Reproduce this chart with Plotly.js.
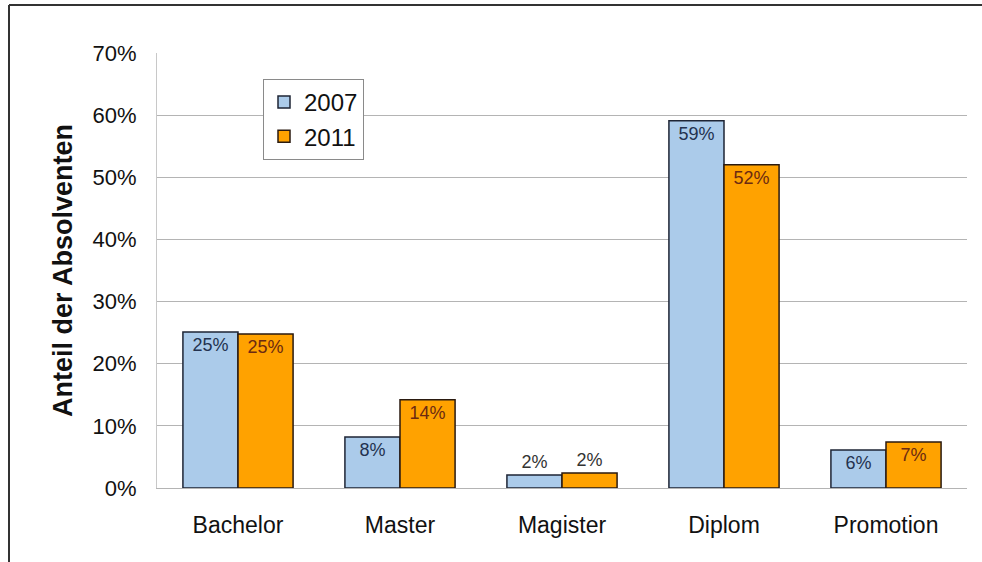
<!DOCTYPE html>
<html>
<head>
<meta charset="utf-8">
<script src="https://cdn.plot.ly/plotly-3.0.1.min.js"></script>
<style>
html,body{margin:0;padding:0;background:#fff;}
#chart{width:982px;height:562px;}
</style>
</head>
<body>
<div id="chart"></div>
<script>
const categories = ["Bachelor", "Master", "Magister", "Diplom", "Promotion"];
const values2007 = [25.1, 8.2, 2.1, 59.1, 6.1];
const values2011 = [24.8, 14.2, 2.4, 52.0, 7.4];
const labels2007 = ["25%", "8%", "2%", "59%", "6%"];
const labels2011 = ["25%", "14%", "2%", "52%", "7%"];
const seriesNames = ["2007", "2011"];
const yTicks = [0, 10, 20, 30, 40, 50, 60, 70];
const yTickText = ["0%", "10%", "20%", "30%", "40%", "50%", "60%", "70%"];

const positions = ["inside", "inside", "outside", "inside", "inside"];

const trace2007 = {
  type: "bar", name: seriesNames[0], x: categories, y: values2007,
  text: labels2007, textposition: positions, insidetextanchor: "end",
  constraintext: "none", cliponaxis: false,
  textfont: {family: "Liberation Sans, Arial, sans-serif", size: 18,
             color: ["#23324f", "#23324f", "#333333", "#23324f", "#23324f"]},
  marker: {color: "#abcbea", line: {color: "#1e2535", width: 1.5}},
  hoverinfo: "none"
};
const trace2011 = {
  type: "bar", name: seriesNames[1], x: categories, y: values2011,
  text: labels2011, textposition: positions, insidetextanchor: "end",
  constraintext: "none", cliponaxis: false,
  textfont: {family: "Liberation Sans, Arial, sans-serif", size: 18,
             color: ["#6b2a12", "#6b2a12", "#333333", "#6b2a12", "#6b2a12"]},
  marker: {color: "#ffa200", line: {color: "#2a1a10", width: 1.5}},
  hoverinfo: "none"
};

const W = 810, H = 435, L = 157, T = 53;
const px = v => (v - L) / W;
const py = v => 1 - (v - T) / H;

const layout = {
  width: 982, height: 562,
  margin: {l: 157, r: 15, t: 53, b: 74, pad: 0},
  paper_bgcolor: "#ffffff", plot_bgcolor: "#ffffff",
  font: {family: "Liberation Sans, Arial, sans-serif", color: "#111"},
  barmode: "group", bargap: 0.32, bargroupgap: 0,
  showlegend: true,
  legend: {x: px(263), y: py(79), xanchor: "left", yanchor: "top",
           bgcolor: "#ffffff", bordercolor: "#8a8a8a", borderwidth: 1,
           font: {size: 24, color: "#111"}, tracegroupgap: 0,
           itemwidth: 30},
  xaxis: {
    type: "category", showgrid: false, showline: true, linecolor: "#b4b4b4", linewidth: 1,
    ticks: "", tickfont: {size: 23, color: "#111"}, ticklabelstandoff: 16,
    fixedrange: true
  },
  yaxis: {
    range: [0, 70], tickvals: yTicks, ticktext: yTickText,
    showgrid: true, gridcolor: "#b4b4b4", gridwidth: 1,
    showline: true, linecolor: "#c8c8c8", linewidth: 1, zeroline: false,
    ticks: "", tickfont: {size: 22, color: "#111"}, ticklabelstandoff: 15,
    title: {text: "<b>Anteil der Absolventen</b>", font: {size: 27, color: "#111"}, standoff: 12},
    fixedrange: true
  },
  shapes: [
    {type: "line", xref: "paper", yref: "paper", x0: px(9), x1: px(982), y0: py(5), y1: py(5),
     line: {color: "#333", width: 2}},
    {type: "line", xref: "paper", yref: "paper", x0: px(9), x1: px(9), y0: py(5), y1: py(562),
     line: {color: "#333", width: 2}}
  ]
};

Plotly.newPlot("chart", [trace2007, trace2011], layout, {displayModeBar: false, staticPlot: true});
</script>
</body>
</html>
